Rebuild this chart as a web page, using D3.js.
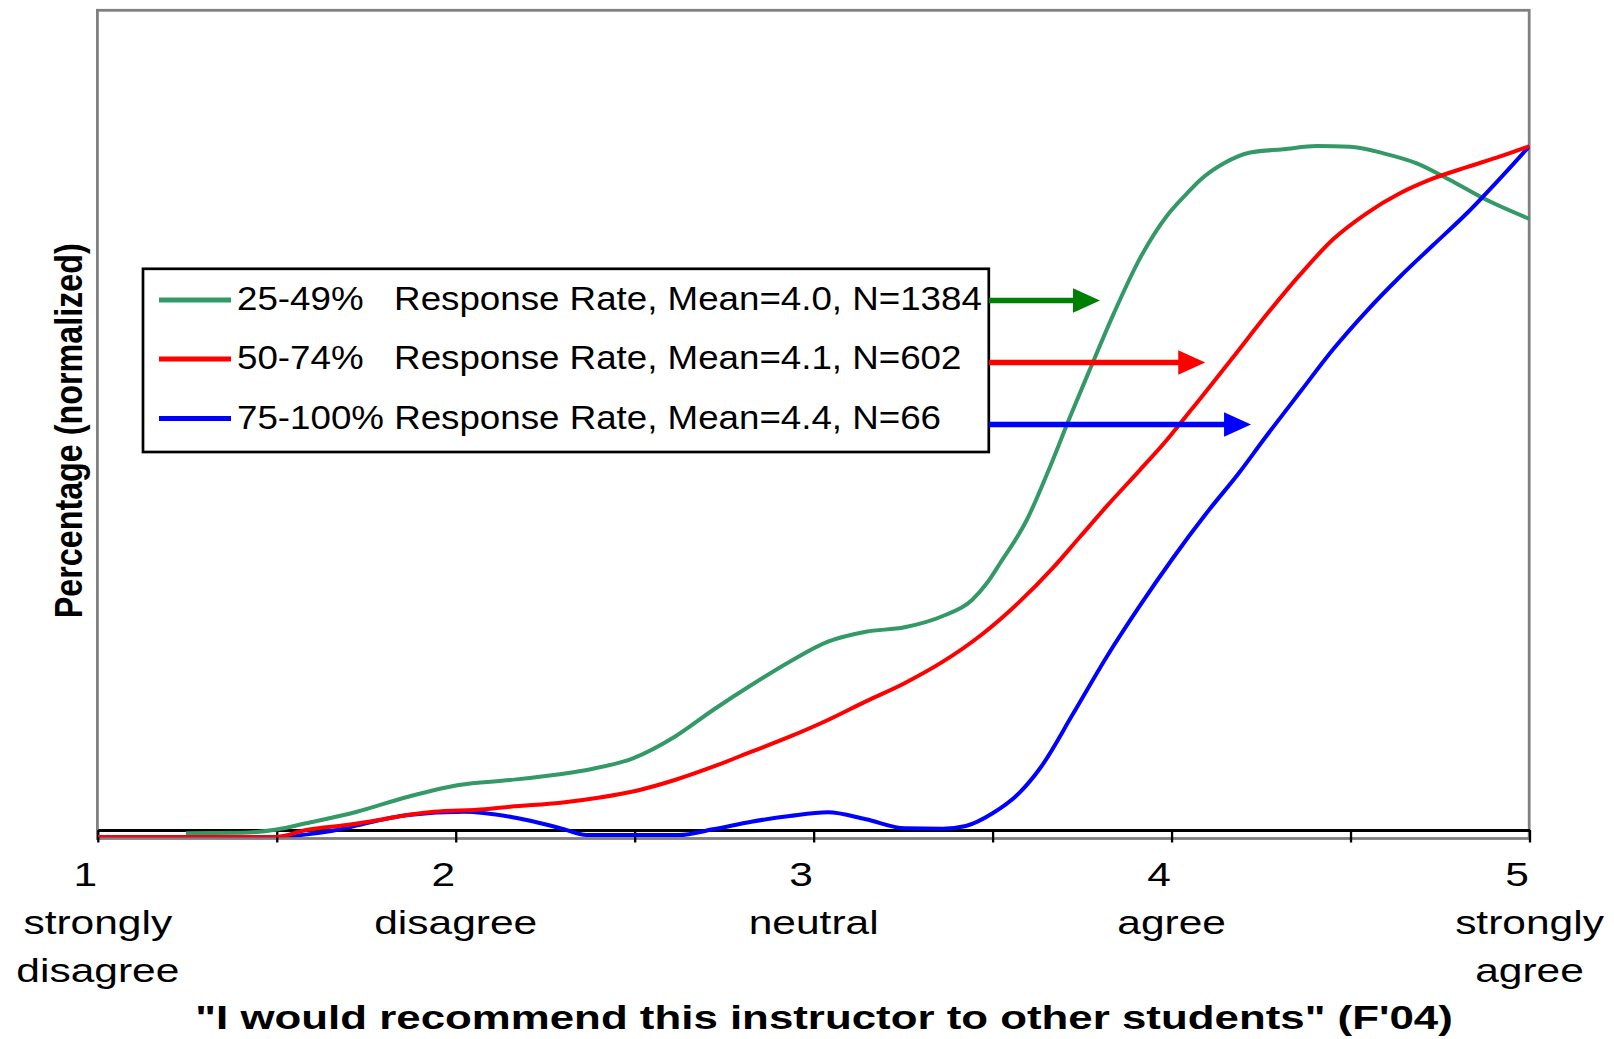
<!DOCTYPE html>
<html><head><meta charset="utf-8">
<script src="https://cdn.jsdelivr.net/npm/d3@7"></script>
<style>
html,body{margin:0;padding:0;background:#fff;}
svg{display:block;}
text{font-family:"Liberation Sans", Arial, sans-serif; fill:#000;}
</style></head>
<body>
<svg id="chart" width="1614" height="1039"></svg>
<script>
// ---- data ----
const tickValues = [1, 1.5, 2, 2.5, 3, 3.5, 4, 4.5, 5];
const labelValues = [1, 2, 3, 4, 5];
const tickNumbers = ["1", "2", "3", "4", "5"];
const tickNames = [["strongly", "disagree"], ["disagree"], ["neutral"], ["agree"], ["strongly", "agree"]];
const seriesNames = [
  "25-49%   Response Rate, Mean=4.0, N=1384",
  "50-74%   Response Rate, Mean=4.1, N=602",
  "75-100% Response Rate, Mean=4.4, N=66"
];
const arrowEnds = [3.80, 4.094, 4.222];
const xTitle = "\"I would recommend this instructor to other students\" (F'04)";
const yTitle = "Percentage (normalized)";

const greenX = [1.246,1.40,1.50,1.582,1.724,1.867,2.009,2.152,2.291,2.377,2.495,2.612,2.719,2.826,2.933,3.040,3.146,3.254,3.361,3.441,3.4837,3.5208,3.5954,3.6605,3.7164,3.7723,3.8374,3.912,3.9866,4.0425,4.080,4.145,4.220,4.312,4.406,4.499,4.592,4.685,4.778,4.871,5.000];
const greenY = [0.45,0.5,0.9,1.66,3.06,4.87,6.29,6.89,7.6,8.2,9.52,12.13,15.36,18.38,21.20,23.62,24.82,25.36,26.72,28.6,30.68,33.10,38.33,44.78,50.82,56.6,63.2,70.0,75.1,77.8,79.45,81.44,82.77,83.16,83.56,83.47,82.67,81.46,79.44,77.23,74.73];

const redX = [1.0,1.497,1.582,1.696,1.939,2.081,2.152,2.294,2.398,2.505,2.612,2.719,2.826,2.933,3.040,3.146,3.254,3.361,3.468,3.574,3.6697,3.7443,3.8189,3.912,3.9866,4.0425,4.080,4.173,4.266,4.359,4.452,4.545,4.638,4.731,4.825,4.918,5.0];
const redY = [0,0,0.85,1.45,3.06,3.35,3.66,4.15,4.75,5.60,6.89,8.50,10.31,12.13,14.15,16.4,18.6,21.20,24.43,28.4,32.6,36.3,40.0,44.4,48.0,51.0,53.0,58.08,63.2,68.0,72.3,75.42,77.83,79.63,81.0,82.3,83.55];

const blueX = [1.0,1.497,1.55,1.62,1.68,1.724,1.867,2.024,2.152,2.294,2.366,2.505,2.623,2.719,2.826,2.933,3.040,3.146,3.254,3.361,3.425,3.500,3.574,3.6326,3.7256,3.8189,3.912,4.005,4.0983,4.1914,4.2565,4.359,4.452,4.545,4.638,4.731,4.825,4.918,5.0];
const blueY = [0,0,0.15,0.5,0.95,1.4,2.66,3.06,2.45,1.05,0.24,0.24,0.24,0.93,1.85,2.54,2.99,2.14,1.05,1.0,1.33,2.87,5.3,8.31,14.96,21.8,28.0,33.8,39.2,44.2,48.0,53.8,59.0,63.6,67.75,71.58,75.42,79.65,83.55];

// ---- styles ----
const seriesColors = ["#339966", "#ff0000", "#0000ff"];
const arrowColors = ["#008000", "#ff0000", "#0000ff"];

const svg = d3.select("#chart");
const x = d3.scaleLinear().domain([1, 5]).range([97.8, 1529.5]);
const y = d3.scaleLinear().domain([0, 100]).range([837, 10]);

// plot area border
svg.append("rect")
  .attr("x", 97.4).attr("y", 10.3).attr("width", 1431.8).attr("height", 828.2)
  .attr("fill", "#fff").attr("stroke", "#808080").attr("stroke-width", 2.8);

// x axis
const axisG = svg.append("g").attr("transform", "translate(0,830)")
  .call(d3.axisBottom(x).tickValues(tickValues).tickSize(12.5).tickSizeOuter(0).tickFormat(""));
axisG.select(".domain").attr("stroke", "#000").attr("stroke-width", 2.8);
axisG.selectAll(".tick line").attr("stroke", "#000").attr("stroke-width", 2.3);

// clip
svg.append("defs").append("clipPath").attr("id", "plotclip")
  .append("rect").attr("x", x(1)).attr("y", 10).attr("width", x(5) - x(1)).attr("height", 837.3 - 10);

const line = d3.line().x(d => x(d[0])).y(d => y(d[1])).curve(d3.curveMonotoneX);
const series = [
  {xs: greenX, ys: greenY, c: seriesColors[0]},
  {xs: blueX, ys: blueY, c: seriesColors[2]},
  {xs: redX, ys: redY, c: seriesColors[1]}
];
const curvesG = svg.append("g").attr("clip-path", "url(#plotclip)");
series.forEach(s => {
  const pts = s.xs.map((v, i) => [v, s.ys[i]]);
  curvesG.append("path").attr("d", line(pts)).attr("fill", "none")
    .attr("stroke", s.c).attr("stroke-width", 4).attr("stroke-linejoin", "round");
});

// text helper
function addText(str, tx, ty, o) {
  const g = svg.append("g");
  const t = g.append("text").attr("x", 0).attr("y", 0)
    .attr("font-size", o.size).attr("font-weight", o.weight || "normal")
    .attr("text-anchor", o.anchor || "middle")
    .style("white-space", "pre").text(str);
  const natural = t.node().getComputedTextLength();
  let sx = o.sx || 1;
  if (o.width) sx = o.width / natural;
  const sy = o.sy || 1;
  g.attr("transform", `translate(${tx},${ty})` + (o.rot ? ` rotate(${o.rot})` : "") + ` scale(${sx},${sy})`);
  return g;
}

// tick labels
labelValues.forEach((v, i) => {
  addText(tickNumbers[i], x(v) - 12.5, 886, {size: 34, sx: 1.25});
  tickNames[i].forEach((w, j) => {
    addText(w, x(v), 934 + j * 47.7, {size: 34, sx: 1.25});
  });
});

// titles
addText(xTitle, 824, 1029.3, {size: 34, weight: "bold", width: 1258});
addText(yTitle, 81.7, 430.8, {size: 34, weight: "bold", width: 375, rot: -90, sy: 1.12});

// legend
svg.append("rect").attr("x", 143).attr("y", 268.8).attr("width", 845.8).attr("height", 183.2)
  .attr("fill", "#fff").attr("stroke", "#000").attr("stroke-width", 2.7);
const legendRowY = [300, 359, 418.5];
const legendTextY = [310, 369.3, 429.3];
seriesNames.forEach((n, i) => {
  svg.append("line").attr("x1", 159).attr("x2", 231).attr("y1", legendRowY[i]).attr("y2", legendRowY[i])
    .attr("stroke", seriesColors[i]).attr("stroke-width", 5);
  addText(n, 237, legendTextY[i], {size: 34, sx: 1.08, anchor: "start"});
});

// arrows
const arrowY = [300.5, 362.5, 424.5];
arrowEnds.forEach((v, i) => {
  const tip = x(v), base = tip - 27, cy = arrowY[i];
  svg.append("line").attr("x1", 989).attr("x2", base + 2).attr("y1", cy).attr("y2", cy)
    .attr("stroke", arrowColors[i]).attr("stroke-width", 5.5);
  svg.append("path").attr("d", `M${base},${cy - 12.3}L${tip},${cy}L${base},${cy + 12.3}Z`)
    .attr("fill", arrowColors[i]);
});
</script>
</body></html>
